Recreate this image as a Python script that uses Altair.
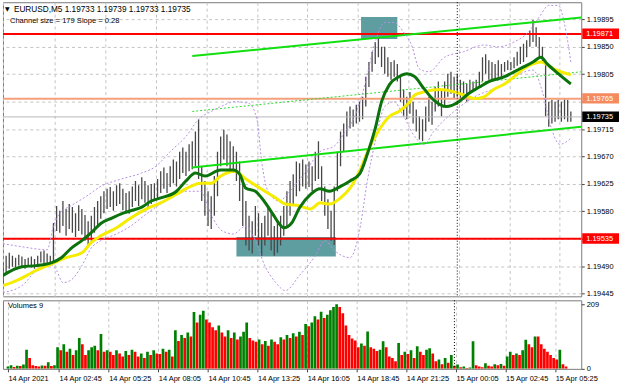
import json
import altair as alt
import pandas as pd

# ---------------- data ----------------
STEP = 2  # each sample = two 5-minute bars

HIGH = [
1.19496,1.19507,1.19512,1.19507,1.19504,1.19509,1.19506,1.19502,1.19504,1.19506,
1.19502,1.19507,1.19514,1.19516,1.19511,1.19507,1.19561,1.19589,1.19581,1.19597,
1.19584,1.19592,1.19587,1.19577,1.19590,1.19584,1.19574,1.19564,1.19573,1.19587,
1.19597,1.19605,1.19613,1.19617,1.19620,1.19613,1.19623,1.19626,1.19617,1.19610,
1.19613,1.19621,1.19630,1.19623,1.19636,1.19630,1.19623,1.19625,1.19626,1.19633,
1.19646,1.19652,1.19643,1.19654,1.19665,1.19662,1.19678,1.19685,1.19678,1.19690,
1.19695,1.19711,1.19731,1.19654,1.19630,1.19613,1.19605,1.19638,1.19678,1.19703,
1.19714,1.19706,1.19695,1.19687,1.19678,1.19662,1.19638,1.19597,1.19573,1.19564,
1.19589,1.19577,1.19561,1.19573,1.19589,1.19577,1.19556,1.19564,1.19573,1.19589,
1.19613,1.19630,1.19641,1.19662,1.19659,1.19665,1.19657,1.19662,1.19654,1.19678,
1.19695,1.19654,1.19621,1.19600,1.19581,1.19621,1.19678,1.19711,1.19724,1.19744,
1.19752,1.19747,1.19755,1.19760,1.19768,1.19801,1.19825,1.19842,1.19858,1.19866,
1.19850,1.19850,1.19833,1.19825,1.19828,1.19822,1.19801,1.19780,1.19768,1.19776,
1.19760,1.19747,1.19736,1.19731,1.19752,1.19768,1.19760,1.19784,1.19793,1.19780,
1.19793,1.19806,1.19809,1.19801,1.19806,1.19796,1.19793,1.19789,1.19796,1.19793,
1.19796,1.19809,1.19833,1.19838,1.19828,1.19825,1.19822,1.19828,1.19822,1.19825,
1.19828,1.19825,1.19833,1.19842,1.19850,1.19855,1.19861,1.19877,1.19894,1.19882,
1.19866,1.19850,1.19825,1.19760,1.19763,1.19760,1.19763,1.19760,1.19765,1.19763,
1.19744]

LOW = [
1.19458,1.19480,1.19486,1.19489,1.19488,1.19491,1.19489,1.19486,1.19489,1.19488,
1.19486,1.19489,1.19496,1.19494,1.19493,1.19491,1.19496,1.19548,1.19545,1.19556,
1.19540,1.19551,1.19545,1.19538,1.19548,1.19542,1.19532,1.19524,1.19532,1.19545,
1.19556,1.19568,1.19577,1.19584,1.19587,1.19581,1.19589,1.19592,1.19582,1.19577,
1.19576,1.19587,1.19597,1.19589,1.19600,1.19594,1.19587,1.19592,1.19597,1.19602,
1.19610,1.19617,1.19610,1.19620,1.19626,1.19621,1.19633,1.19643,1.19638,1.19646,
1.19649,1.19654,1.19633,1.19597,1.19573,1.19556,1.19551,1.19573,1.19605,1.19654,
1.19665,1.19654,1.19646,1.19643,1.19630,1.19597,1.19556,1.19524,1.19516,1.19511,
1.19540,1.19524,1.19507,1.19524,1.19540,1.19516,1.19507,1.19512,1.19524,1.19540,
1.19556,1.19573,1.19589,1.19605,1.19613,1.19621,1.19617,1.19620,1.19613,1.19630,
1.19633,1.19597,1.19573,1.19551,1.19532,1.19525,1.19613,1.19654,1.19678,1.19703,
1.19716,1.19719,1.19724,1.19727,1.19731,1.19752,1.19784,1.19809,1.19822,1.19833,
1.19817,1.19806,1.19801,1.19796,1.19801,1.19793,1.19760,1.19736,1.19731,1.19740,
1.19724,1.19711,1.19698,1.19695,1.19711,1.19727,1.19722,1.19744,1.19752,1.19736,
1.19752,1.19768,1.19773,1.19765,1.19768,1.19760,1.19763,1.19760,1.19776,1.19776,
1.19780,1.19784,1.19793,1.19806,1.19796,1.19793,1.19796,1.19801,1.19802,1.19809,
1.19812,1.19812,1.19815,1.19819,1.19822,1.19825,1.19833,1.19850,1.19858,1.19850,
1.19833,1.19825,1.19736,1.19719,1.19724,1.19727,1.19731,1.19727,1.19731,1.19727,
1.19727]

VOLUME = [
8,12,6,10,9,14,62,35,12,9,
8,11,10,21,9,12,70,60,80,55,
65,45,60,100,80,45,60,70,75,60,
113,55,60,55,45,60,50,40,58,45,
62,55,40,50,35,55,45,60,50,48,
65,55,62,40,125,90,110,100,118,105,
184,150,175,188,160,150,135,125,140,118,
105,125,100,118,95,105,120,150,100,92,
88,95,80,90,75,95,88,80,102,95,
110,100,115,105,120,110,145,138,150,170,
160,185,165,175,190,200,209,200,180,140,
110,98,92,70,82,75,121,70,65,58,
62,89,70,40,35,25,84,45,55,48,
60,35,73,55,45,62,67,50,25,30,
15,35,20,45,10,14,5,8,3,4,
89,12,8,5,18,10,8,15,12,16,
10,40,55,45,50,45,60,94,80,70,
105,105,80,65,55,45,35,30,62,15,
8]

GREEN_MA_BAR = [0,12,21,31,37,43,50,56,62,69,75,81,88,94,100,110,116,122,128,138,
                146,150,154,160,164,171,175,178,183,188,195,201,207,214,220,226,231,236,240,245,
                251,256,261,267,273,281,289,295,302,308,318,324,330,336,341,345,352,360]
GREEN_MA = [1.19475,1.19489,1.19491,1.19496,1.19504,1.19519,1.19532,1.19545,1.19560,1.19569,
            1.19576,1.19581,1.19587,1.19597,1.19602,1.19613,1.19630,1.19643,1.19638,1.19648,
            1.19648,1.19641,1.19618,1.19613,1.19602,1.19576,1.19560,1.19553,1.19561,1.19586,
            1.19608,1.19617,1.19613,1.19621,1.19630,1.19641,1.19674,1.19716,1.19760,1.19788,
            1.19801,1.19806,1.19801,1.19781,1.19763,1.19752,1.19760,1.19773,1.19784,1.19793,
            1.19801,1.19809,1.19817,1.19825,1.19833,1.19822,1.19806,1.19789]

YELLOW_MA_BAR = [0,9,21,31,40,50,56,62,72,81,91,100,110,119,125,132,138,147,154,163,
                 173,179,188,195,201,207,214,220,226,232,239,245,251,258,261,267,277,286,292,299,
                 305,311,318,324,330,336,341,349,360]
YELLOW_MA = [1.19458,1.19467,1.19483,1.19494,1.19504,1.19512,1.19529,1.19540,1.19553,1.19569,
             1.19584,1.19594,1.19608,1.19621,1.19626,1.19626,1.19638,1.19646,1.19633,1.19618,
             1.19602,1.19592,1.19589,1.19584,1.19594,1.19592,1.19602,1.19618,1.19646,1.19683,
             1.19716,1.19736,1.19744,1.19760,1.19771,1.19776,1.19780,1.19776,1.19771,1.19765,
             1.19768,1.19780,1.19789,1.19801,1.19814,1.19822,1.19825,1.19814,1.19804]

BAND_UP_BAR = [0,12,28,32,36,43,53,62,75,88,97,106,116,124,132,139,147,156,161,164,
               168,175,182,192,201,210,217,223,229,236,242,248,254,259,264,270,280,292,305,314,
               324,333,340,346,352,357,360]
BAND_UP = [1.19527,1.19522,1.19517,1.19556,1.19577,1.19589,1.19605,1.19621,1.19633,1.19643,
           1.19654,1.19678,1.19703,1.19731,1.19744,1.19753,1.19760,1.19757,1.19731,1.19662,
           1.19613,1.19597,1.19613,1.19646,1.19678,1.19687,1.19711,1.19736,1.19784,1.19858,
           1.19890,1.19890,1.19874,1.19853,1.19814,1.19809,1.19833,1.19842,1.19853,1.19850,
           1.19858,1.19874,1.19899,1.19918,1.19918,1.19874,1.19825]

BAND_LO_BAR = [0,12,21,28,34,38,43,50,56,62,72,81,91,103,116,125,133,139,146,154,
               160,166,173,179,188,198,204,210,220,226,231,236,242,248,254,261,267,273,286,299,
               314,328,336,342,347,353,360]
BAND_LO = [1.19447,1.19458,1.19483,1.19496,1.19483,1.19463,1.19467,1.19491,1.19520,1.19532,
           1.19543,1.19556,1.19576,1.19597,1.19613,1.19613,1.19569,1.19548,1.19543,1.19556,
           1.19532,1.19491,1.19463,1.19450,1.19475,1.19507,1.19532,1.19516,1.19504,1.19548,
           1.19630,1.19695,1.19752,1.19760,1.19736,1.19703,1.19690,1.19711,1.19744,1.19768,
           1.19784,1.19806,1.19812,1.19776,1.19722,1.19690,1.19700]

CHANNEL_BAR = [120, 366.6]
CHANNEL_UP = [1.19835, 1.19898]
CHANNEL_MID = [1.19744, 1.19809]
CHANNEL_LO = [1.19652, 1.19719]

ZONE_X0 = [148, 227]
ZONE_X1 = [211, 250]
ZONE_Y0 = [1.19506, 1.19863]
ZONE_Y1 = [1.19538, 1.19899]

LEVELS = [1.19871, 1.19765, 1.19535]
LEVEL_COLORS = ["#ff0000", "#f4a07c", "#ff0000"]
LAST_PRICE = 1.19735

BOX_PRICES = [1.19871, 1.19765, 1.19735, 1.19535]
BOX_COLORS = ["#ff0000", "#f58a5f", "#000000", "#ff0000"]

PRICE_TICKS = [1.19445, 1.19490, 1.19535, 1.19580, 1.19625, 1.19670,
               1.19715, 1.19760, 1.19805, 1.19850, 1.19895]
HIDDEN_TICKS = [1.19760, 1.19535]  # covered by the level boxes in the reference
TIME_TICKS = [0, 33, 65, 97, 129, 161, 193, 225, 257, 289, 321, 353]
TIME_LABELS = ["14 Apr 2021", "14 Apr 02:45", "14 Apr 05:25", "14 Apr 08:05",
               "14 Apr 10:45", "14 Apr 13:25", "14 Apr 16:05", "14 Apr 18:45",
               "14 Apr 21:25", "15 Apr 00:05", "15 Apr 02:45", "15 Apr 05:25"]
DAY_BREAK = 288

HEADER = "EURUSD,M5  1.19733 1.19739 1.19733 1.19735"
SUBHEADER = "Channel size = 179 Slope = 0.28"

# ---------------- tables ----------------
bars = pd.DataFrame({"b": [i * STEP for i in range(len(HIGH))], "hi": HIGH, "lo": LOW})
vol_colors = ["#008000" if i == 0 or VOLUME[i] > VOLUME[i - 1] else "#ff0000"
              for i in range(len(VOLUME))]
vol = pd.DataFrame({"b": [i * STEP for i in range(len(VOLUME))], "v": VOLUME, "c": vol_colors})
ma_g = pd.DataFrame({"b": GREEN_MA_BAR, "p": GREEN_MA})
ma_y = pd.DataFrame({"b": YELLOW_MA_BAR, "p": YELLOW_MA})
bands = pd.concat([
    pd.DataFrame({"b": BAND_UP_BAR, "p": BAND_UP, "s": "up"}),
    pd.DataFrame({"b": BAND_LO_BAR, "p": BAND_LO, "s": "lo"}),
])
chan = pd.concat([
    pd.DataFrame({"b": CHANNEL_BAR, "p": CHANNEL_UP, "s": "up"}),
    pd.DataFrame({"b": CHANNEL_BAR, "p": CHANNEL_LO, "s": "lo"}),
])
chan_mid = pd.DataFrame({"b": CHANNEL_BAR, "p": CHANNEL_MID})
zones = pd.DataFrame({"b": ZONE_X0, "b2": ZONE_X1, "p": ZONE_Y0, "p2": ZONE_Y1})
levels = pd.DataFrame({"p": LEVELS, "c": LEVEL_COLORS})
boxes = pd.DataFrame({"p": BOX_PRICES, "bg": BOX_COLORS,
                      "label": [f"{v:.5f}" for v in BOX_PRICES]})

FONT = "Liberation Sans"
xscale = alt.Scale(domain=[0, 366.6], nice=False, zero=False)
yscale = alt.Scale(domain=[1.194406, 1.199232], nice=False, zero=False)
GRID = dict(gridColor="#c4c4c4", gridDash=[3, 3], gridWidth=1)

hidden_cond = " || ".join(f"abs(datum.value - {v}) < 1e-7" for v in HIDDEN_TICKS)
AX_X_MAIN = alt.Axis(values=TIME_TICKS, labels=False, ticks=False, domain=False,
                     title=None, grid=True, **GRID)
AX_Y_MAIN = alt.Axis(orient="right", values=PRICE_TICKS, title=None,
                     labelExpr=f"({hidden_cond}) ? '' : format(datum.value, '.5f')",
                     grid=True, tickSize=3, labelPadding=2, domain=False,
                     labelOverlap=False, **GRID)


def X(field):
    return alt.X(field, type="quantitative", scale=xscale, axis=AX_X_MAIN)


def Y(field):
    return alt.Y(field, type="quantitative", scale=yscale, axis=AX_Y_MAIN)


# ---------------- main panel ----------------
zone_l = alt.Chart(zones).mark_rect(color="#5f9ea0").encode(
    x=X("b"), x2="b2:Q", y=Y("p"), y2="p2:Q")

bar_l = alt.Chart(bars).mark_rule(color="#474747", strokeWidth=1.3, clip=True).encode(
    x=X("b"), y=Y("lo"), y2="hi:Q")

level_l = alt.Chart(levels).mark_rule(strokeWidth=2).encode(
    y=Y("p"), color=alt.Color("c:N", scale=None))
last_l = alt.Chart(pd.DataFrame({"p": [LAST_PRICE]})).mark_rule(
    color="#b8b8b8", strokeWidth=1).encode(y=Y("p"))

chan_l = alt.Chart(chan).mark_line(color="#10e010", strokeWidth=2, clip=True).encode(
    x=X("b"), y=Y("p"), detail="s:N")
chan_mid_l = alt.Chart(chan_mid).mark_line(color="#30d830", strokeWidth=1,
                                           strokeDash=[2, 2], clip=True).encode(
    x=X("b"), y=Y("p"))

band_l = alt.Chart(bands).mark_line(color="#b58fe2", strokeWidth=1, strokeDash=[2, 2],
                                    interpolate="monotone", clip=True).encode(
    x=X("b"), y=Y("p"), detail="s:N")

ma_y_l = alt.Chart(ma_y).mark_line(color="#f5ec00", strokeWidth=3,
                                   interpolate="monotone", clip=True).encode(
    x=X("b"), y=Y("p"))
ma_g_l = alt.Chart(ma_g).mark_line(color="#0c720c", strokeWidth=3,
                                   interpolate="monotone", clip=True).encode(
    x=X("b"), y=Y("p"))

day_l = alt.Chart(pd.DataFrame({"b": [DAY_BREAK]})).mark_rule(
    color="#000000", strokeDash=[1, 2], strokeWidth=1).encode(x=X("b"))

box_l = alt.Chart(boxes).mark_rect(yOffset=-5.5, y2Offset=5).encode(
    x=alt.value(583), x2=alt.value(620),
    y=Y("p"), y2=alt.Y2("p:Q"),
    color=alt.Color("bg:N", scale=None))
box_t = alt.Chart(boxes).mark_text(align="left", baseline="middle", font=FONT,
                                   fontSize=7.5, color="white").encode(
    x=alt.value(587), y=Y("p"), text="label:N")

tri = alt.Chart(pd.DataFrame({"t": ["▼"]})).mark_text(
    align="left", baseline="middle", font="DejaVu Sans", fontSize=6, color="#000").encode(
    x=alt.value(2), y=alt.value(7), text="t:N")
head = alt.Chart(pd.DataFrame({"t": [HEADER]})).mark_text(
    align="left", baseline="middle", font=FONT, fontSize=8.3, color="#000").encode(
    x=alt.value(11), y=alt.value(7.5), text="t:N")
sub = alt.Chart(pd.DataFrame({"t": [SUBHEADER]})).mark_text(
    align="left", baseline="middle", font=FONT, fontSize=7.6, color="#000").encode(
    x=alt.value(7), y=alt.value(18.5), text="t:N")

main = alt.layer(zone_l, bar_l, level_l, last_l, chan_l, chan_mid_l, band_l,
                 ma_y_l, ma_g_l, day_l, box_l, box_t, tri, head, sub).properties(
    width=582, height=296)

# ---------------- volume panel ----------------
label_expr = f"{json.dumps(TIME_LABELS)}[indexof({json.dumps(TIME_TICKS)}, datum.value)]"
AX_X_VOL = alt.Axis(values=TIME_TICKS, labelExpr=label_expr, labelAlign="left",
                    labelBaseline="top", tickSize=3, labelPadding=3, title=None,
                    grid=True, domain=False, labelFlush=False, labelOverlap=False, **GRID)
vscale = alt.Scale(domain=[0, 222], nice=False)
AX_Y_VOL = alt.Axis(orient="right", values=[0, 209], title=None, grid=False,
                    tickSize=3, labelPadding=2, domain=False)

vol_l = alt.Chart(vol).mark_bar(width=2.7, clip=True).encode(
    x=alt.X("b:Q", scale=xscale, axis=AX_X_VOL),
    y=alt.Y("v:Q", scale=vscale, axis=AX_Y_VOL),
    color=alt.Color("c:N", scale=None))
vol_day = alt.Chart(pd.DataFrame({"b": [DAY_BREAK]})).mark_rule(
    color="#000000", strokeDash=[1, 2], strokeWidth=1).encode(
    x=alt.X("b:Q", scale=xscale, axis=AX_X_VOL))
vol_title = alt.Chart(pd.DataFrame({"t": ["Volumes 9"]})).mark_text(
    align="left", baseline="middle", font=FONT, fontSize=7.6, color="#000").encode(
    x=alt.value(5), y=alt.value(6), text="t:N")

volume = alt.layer(vol_l, vol_day, vol_title).properties(width=582, height=69)

chart = alt.vconcat(main, volume, spacing=4, bounds="flush").properties(
    padding={"left": 1, "top": 0, "right": 0, "bottom": 0},
    background="white",
).configure_view(stroke="#7a7a7a", strokeWidth=1).configure_axis(
    labelFont=FONT, labelFontSize=7.5, labelColor="#000000", tickColor="#444444")

chart.save("out.html", embed_options={"renderer": "svg", "actions": False})
